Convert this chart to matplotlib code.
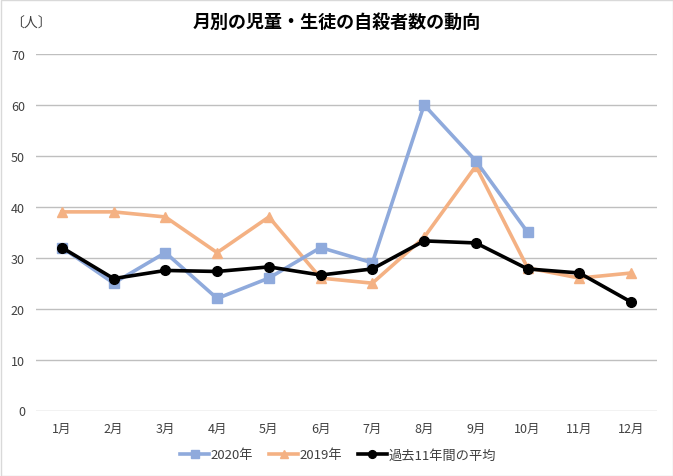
import matplotlib
matplotlib.use("Agg")
import matplotlib.pyplot as plt
import numpy as np

plt.rcParams['font.family'] = ['Noto Sans CJK JP', 'DejaVu Sans']

months = ["1月", "2月", "3月", "4月", "5月", "6月", "7月", "8月", "9月", "10月", "11月", "12月"]
y2020 = [32, 25, 31, 22, 26, 32, 29, 60, 49, 35]
y2019 = [39, 39, 38, 31, 38, 26, 25, 34, 48, 28, 26, 27]
avg11 = [32.0, 25.9, 27.5, 27.3, 28.2, 26.6, 27.8, 33.3, 32.9, 27.8, 27.0, 21.3]
yticks = [0, 10, 20, 30, 40, 50, 60, 70]

W, H = 673, 477
fig = plt.figure(figsize=(W / 100, H / 100), dpi=100)
ax = fig.add_axes([36 / W, 1 - 411.5 / H, (657 - 36) / W, (411.5 - 55) / H])

x = np.arange(len(months))
c20 = "#8FAADC"
c19 = "#F4B183"
ax.plot(x[:len(y2020)], y2020, color=c20, lw=2.6, marker="s", ms=7.5, label="2020年", zorder=3)
ax.plot(x, y2019, color=c19, lw=2.6, marker="^", ms=7.5, label="2019年", zorder=2)
ax.plot(x, avg11, color="black", lw=2.6, marker="o", ms=7, label="過去11年間の平均", zorder=4)

ax.set_xlim(-0.5, len(months) - 0.5)
ax.set_ylim(0, 70)
ax.set_yticks(yticks)
ax.set_yticklabels([str(v) for v in yticks], fontsize=9, color="#404040")
ax.set_xticks(x)
ax.set_xticklabels(months, fontsize=9, color="#404040")
ax.yaxis.grid(True, color="#BFBFBF", lw=1)
ax.set_axisbelow(True)
for s in ax.spines.values():
    s.set_visible(False)
ax.tick_params(length=0)
ax.tick_params(axis="y", pad=8)
ax.tick_params(axis="x", pad=8)

fig.text(336.5 / W, 1 - 22 / H, "月別の児童・生徒の自殺者数の動向", ha="center", va="center",
         fontsize=13, fontweight="bold", color="black")
fig.text(10 / W, 1 - 24 / H, "〔人〕", ha="left", va="center", fontsize=10, color="#404040")

leg = fig.legend(loc="center", bbox_to_anchor=(338 / W, 1 - 456 / H), ncol=3, frameon=False,
                 fontsize=9.5, handlelength=2.2, handletextpad=0.1, columnspacing=1.2, markerscale=0.8)
for t in leg.get_texts():
    t.set_color("#404040")

border = plt.Rectangle((0.5 / W, 0.5 / H), 1 - 1 / W, 1 - 1 / H, transform=fig.transFigure,
                       fill=False, edgecolor="#D9D9D9", lw=1)
fig.patches.append(border)

fig.savefig("out.png", dpi=100)
